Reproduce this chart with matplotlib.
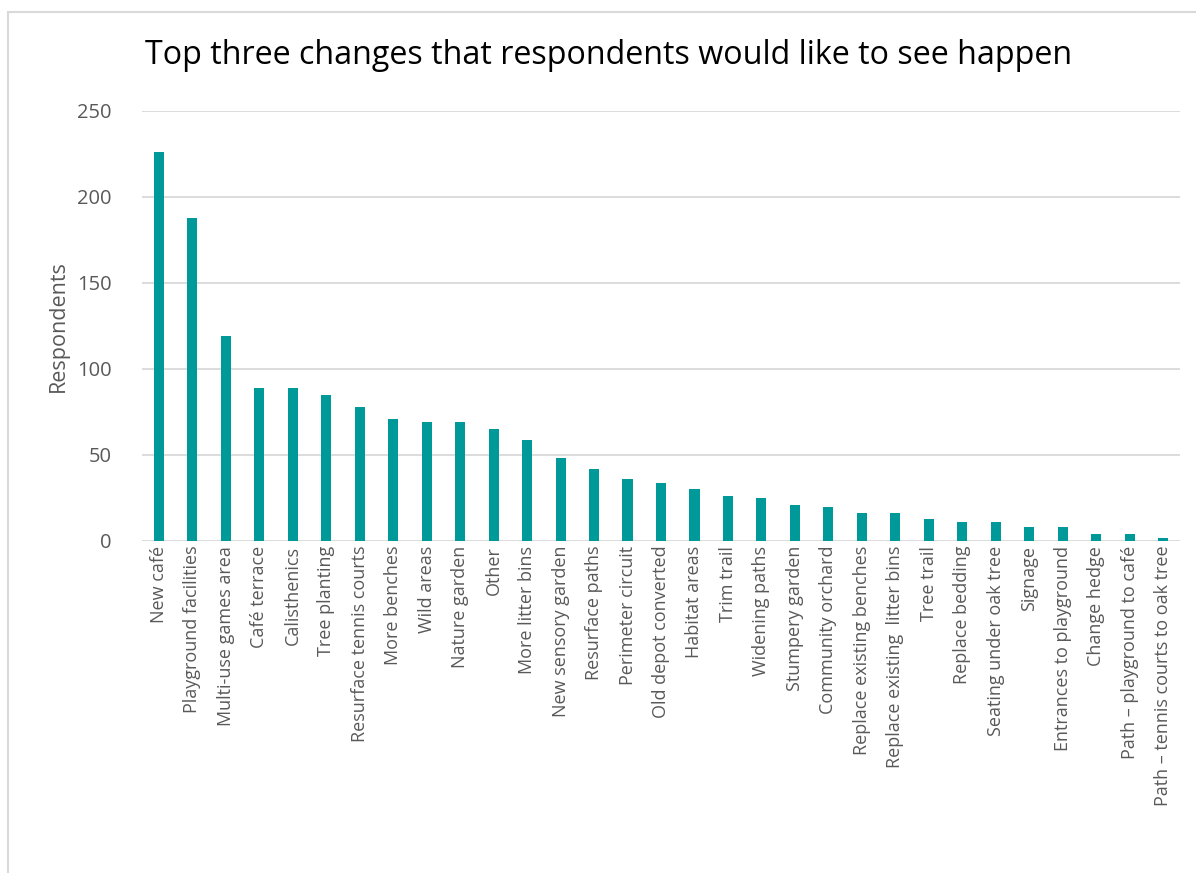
import matplotlib.pyplot as plt
from matplotlib.patches import Rectangle

# categories and counts
categories = [
    "New café", "Playground facilities", "Multi-use games area", "Café terrace",
    "Calisthenics", "Tree planting", "Resurface tennis courts", "More benches",
    "Wild areas", "Nature garden", "Other", "More litter bins",
    "New sensory garden", "Resurface paths", "Perimeter circuit",
    "Old depot converted", "Habitat areas", "Trim trail", "Widening paths",
    "Stumpery garden", "Community orchard", "Replace existing benches",
    "Replace existing  litter bins", "Tree trail", "Replace bedding",
    "Seating under oak tree", "Signage", "Entrances to playground",
    "Change hedge", "Path – playground to café", "Path – tennis courts to oak tree",
]
respondents = [226, 188, 119, 89, 89, 85, 78, 71, 69, 69, 65, 59, 48, 42, 36,
               34, 30, 26, 25, 21, 20, 16, 16, 13, 11, 11, 8, 8, 4, 4, 2]

plt.rcParams['font.family'] = ['Open Sans', 'DejaVu Sans']

fig = plt.figure(figsize=(11.96, 8.73), dpi=100)

# light grey chart border (cropped on right and bottom)
fig.patches.append(Rectangle((8 / 1196, -0.01), 1.0, 1 - 12 / 873 + 0.01,
                             transform=fig.transFigure, fill=False,
                             edgecolor='#D9D9D9', linewidth=1.5))

ax = fig.add_axes([142 / 1196, 1 - 541 / 873, (1180 - 142) / 1196, (541 - 111) / 873])

x = range(len(categories))
ax.bar(x, respondents, width=0.3, color='#009999', zorder=3)

ax.set_xlim(-0.5, len(categories) - 0.5)
ax.set_ylim(0, 250)
ax.set_yticks(range(0, 251, 50))
ax.grid(axis='y', color='#D9D9D9', linewidth=1.3, zorder=0)
for s in ax.spines.values():
    s.set_visible(False)
ax.tick_params(axis='x', length=0, colors='#595959', labelsize=13)
ax.tick_params(axis='y', length=0, colors='#595959', labelsize=14.5, pad=22)
ax.set_xticks(list(x))
ax.set_xticklabels(categories, rotation=90)

ax.set_ylabel("Respondents", fontsize=15.5, color='#595959', labelpad=6)

fig.text(609 / 1196, 1 - 56 / 873, "Top three changes that respondents would like to see happen",
         ha='center', va='center', fontsize=23.2, color='black')

fig.savefig("out.png", dpi=100)
